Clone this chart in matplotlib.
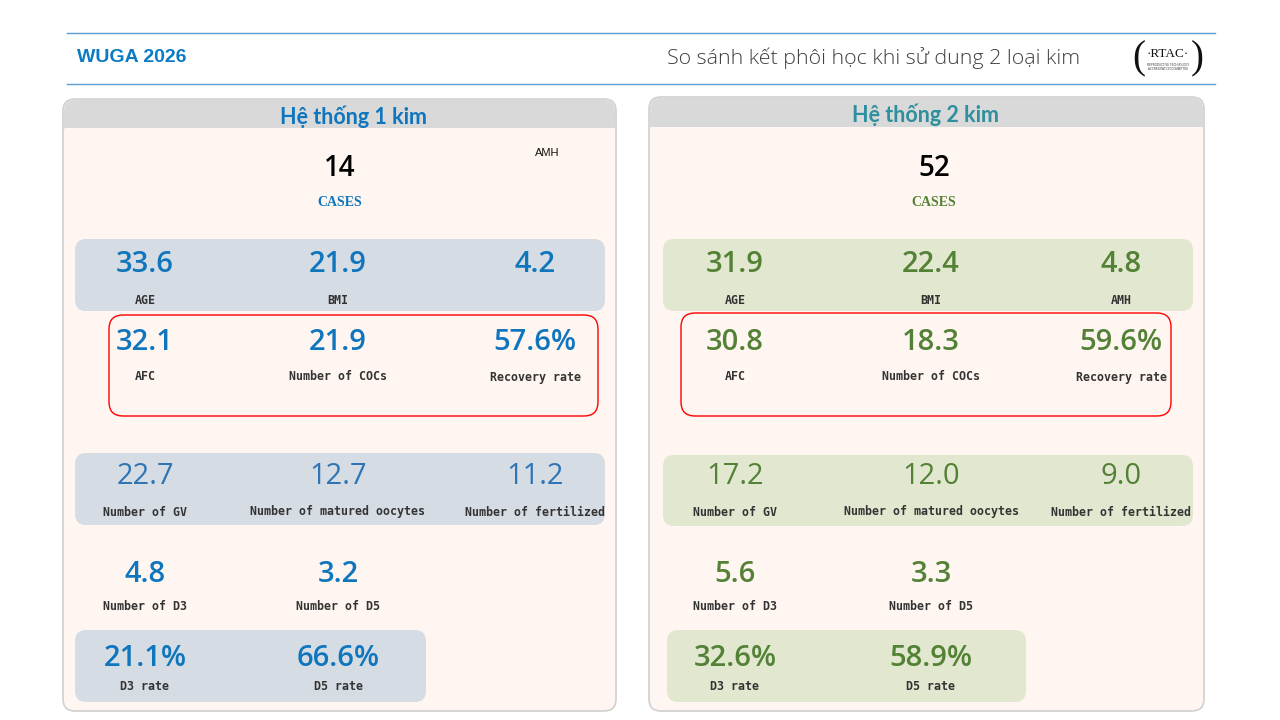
import matplotlib
matplotlib.use("Agg")
import matplotlib.pyplot as plt
from matplotlib.patches import FancyBboxPatch

# ---- data ----
header_left = "WUGA 2026"
header_title = "So sánh kết phôi học khi sử dung 2 loại kim"
system_names = ["Hệ thống 1 kim", "Hệ thống 2 kim"]
cases = [14, 52]

metric_labels = ["AGE", "BMI", "AMH",
                 "AFC", "Number of COCs", "Recovery rate",
                 "Number of GV", "Number of matured oocytes", "Number of fertilized",
                 "Number of D3", "Number of D5",
                 "D3 rate", "D5 rate"]
is_percent = [False, False, False,
              False, False, True,
              False, False, False,
              False, False,
              True, True]
sys1_values = [33.6, 21.9, 4.2, 32.1, 21.9, 57.6, 22.7, 12.7, 11.2, 4.8, 3.2, 21.1, 66.6]
sys2_values = [31.9, 22.4, 4.8, 30.8, 18.3, 59.6, 17.2, 12.0, 9.0, 5.6, 3.3, 32.6, 58.9]

# ---- style ----
BLUE = "#0f75bd"
BLUE_LIGHT = "#2e75b6"
GREEN = "#538135"
TEAL = "#2e8f9f"
LINE = "#5b9bd5"
PANEL_BG = "#fff6f1"
BAND = "#d9d9d9"
BOX_BLUE = "#d6dce4"
BOX_GREEN = "#e2e8cf"
LABEL = "#333333"
NUM_FONT = ["Open Sans", "DejaVu Sans"]
MONO = ["DejaVu Sans Mono"]

fig = plt.figure(figsize=(12.8, 7.2), dpi=100)
ax = fig.add_axes([0, 0, 1, 1])
ax.set_xlim(0, 1280)
ax.set_ylim(720, 0)
ax.axis("off")


def rbox(x0, y0, x1, y1, fc, ec="none", lw=0, r=10, z=1):
    p = FancyBboxPatch((x0, y0), x1 - x0, y1 - y0,
                       boxstyle=f"round,pad=0,rounding_size={r}",
                       fc=fc, ec=ec, lw=lw, zorder=z)
    ax.add_patch(p)


# header
ax.plot([67, 1215], [33, 33], color=LINE, lw=1)
ax.plot([67, 1215], [84, 84], color=LINE, lw=1)
ax.text(77, 58, header_left, color="#0a7bc4", fontsize=14, fontweight="bold",
        family=["Liberation Sans"], ha="left", va="center")
ax.text(1080, 58, header_title, color="#404040", fontsize=15.4, fontweight="light",
        family=["Open Sans", "DejaVu Sans"], ha="right", va="center")
# logo
ax.text(1139, 59, "(", fontsize=28, family=["Liberation Serif"], ha="center", va="center",
        color="#111111")
ax.text(1197, 59, ")", fontsize=28, family=["Liberation Serif"], ha="center", va="center",
        color="#111111")
ax.text(1168, 54, "·RTAC·", fontsize=9.5, family=["Liberation Serif"], ha="center", va="center",
        color="#111111")
ax.text(1168, 67, "REPRODUCTIVE TECHNOLOGY\nACCREDITATION COMMITTEE", fontsize=2.0,
        family=["Liberation Sans"], ha="center", va="center", color="#333333", linespacing=1.0)

panels = [
    dict(x0=63, x1=616, y0=99, band=128, cols=[145, 338, 535], title_x=354, title_col=BLUE,
         val=BLUE, val2=BLUE_LIGHT, box=BOX_BLUE, values=sys1_values, cases_x=340,
         red=(109, 315, 598, 416), box_rows=[(75, 239, 605, 311), (75, 453, 605, 525), (75, 630, 426, 702)]),
    dict(x0=649, x1=1204, y0=97, band=127, cols=[735, 931, 1121], title_x=925, title_col=TEAL,
         val=GREEN, val2=GREEN, box=BOX_GREEN, values=sys2_values, cases_x=934,
         red=(681, 313, 1171, 416), box_rows=[(663, 239, 1193, 311), (663, 455, 1193, 526), (667, 630, 1026, 702)]),
]

val_rows = [265, 343, 476, 574, 659]
lab_rows = [300, 377, 512, 606, 686]
row_members = [[0, 1, 2], [3, 4, 5], [6, 7, 8], [9, 10], [11, 12]]

for k, p in enumerate(panels):
    # panel card
    rbox(p["x0"], p["y0"], p["x1"], 711, PANEL_BG, ec="#d0d0d0", lw=1.2, r=12, z=1)
    rbox(p["x0"] + 1, p["y0"] + 1, p["x1"] - 1, p["band"] + 8, BAND, r=11, z=2)
    ax.add_patch(plt.Rectangle((p["x0"] + 1.5, p["band"]), p["x1"] - p["x0"] - 3, 9,
                               fc=PANEL_BG, ec="none", zorder=2.5))
    ax.text(p["title_x"], (p["y0"] + p["band"]) / 2 + 3, system_names[k], color=p["title_col"],
            fontsize=15.5, fontweight="bold", family=["Lato", "DejaVu Sans"],
            ha="center", va="center", zorder=3)

    # cases
    ax.text(p["cases_x"], 169, str(cases[k]), fontsize=20, fontweight="semibold", color="#000000",
            family=NUM_FONT, ha="center", va="center", zorder=3)
    ax.text(p["cases_x"], 202, "CASES", fontsize=10, fontweight="bold", color=p["val"],
            family=["Liberation Serif"], ha="center", va="center", zorder=3)

    # tinted boxes and red outline
    for (bx0, by0, bx1, by1) in p["box_rows"]:
        rbox(bx0, by0, bx1, by1, p["box"], r=11, z=2)
    rx0, ry0, rx1, ry1 = p["red"]
    rbox(rx0, ry0, rx1, ry1, "none", ec="#ff0000", lw=1.0, r=14, z=3)

    for r, members in enumerate(row_members):
        for c, m in enumerate(members):
            v = p["values"][m]
            txt = f"{v:.1f}%" if is_percent[m] else f"{v:.1f}"
            light = r == 2
            ax.text(p["cols"][c], val_rows[r], txt, fontsize=21,
                    fontweight="normal" if light else "semibold",
                    color=p["val2"] if light else p["val"],
                    family=NUM_FONT, ha="center", va="center", zorder=4)
            lab = metric_labels[m]
            if k == 0 and m == 2:
                # first panel shows its AMH caption up by the case count
                ax.text(547, 153, lab, fontsize=8, color="#111111",
                        family=["Liberation Sans"], ha="center", va="center", zorder=4)
                continue
            ax.text(p["cols"][c], lab_rows[r], lab, fontsize=8.4, fontweight="bold",
                    color=LABEL, family=MONO, ha="center", va="center", zorder=4)

fig.savefig("out.png", dpi=100)
plt.close(fig)
